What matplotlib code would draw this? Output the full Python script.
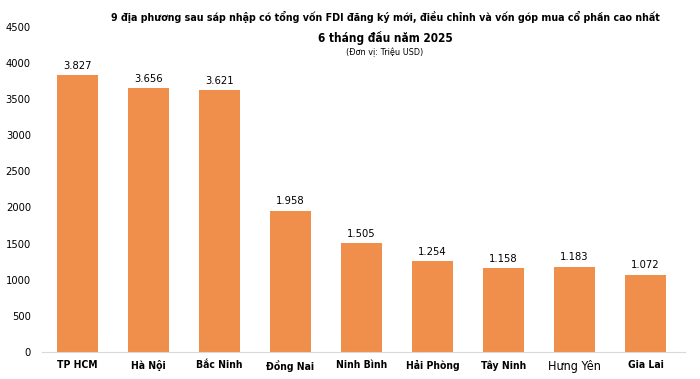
import matplotlib
matplotlib.use("Agg")
import matplotlib.pyplot as plt

categories = ["TP HCM", "Hà Nội", "Bắc Ninh", "Đồng Nai", "Ninh Bình", "Hải Phòng", "Tây Ninh", "Hưng Yên", "Gia Lai"]
values = [3827, 3656, 3621, 1958, 1505, 1254, 1158, 1183, 1072]
value_labels = ["3.827", "3.656", "3.621", "1.958", "1.505", "1.254", "1.158", "1.183", "1.072"]
yticks = [0, 500, 1000, 1500, 2000, 2500, 3000, 3500, 4000, 4500]

plt.rcParams['font.family'] = ['DejaVu Sans']
plt.rcParams['font.stretch'] = 'condensed'

fig = plt.figure(figsize=(7, 3.79), dpi=100)
ax = fig.add_axes([0.06, 0.0712, 0.919, 0.858])
x = list(range(len(categories)))
bars = ax.bar(x, values, width=0.59, color="#F08E4B")
for xi, v, lab in zip(x, values, value_labels):
    ax.annotate(lab, (xi, v), xytext=(0, 3), textcoords="offset points",
                ha="center", va="bottom", fontsize=8)
ax.set_xlim(-0.5, 8.56)
ax.set_ylim(0, 4500)
ax.set_yticks(yticks)
ax.set_yticklabels([str(t) for t in yticks], fontsize=8)
ax.set_xticks(x)
ax.set_xticklabels(categories, fontsize=7.5, fontweight="bold")
for lbl in ax.get_xticklabels():
    if lbl.get_text() == "Hưng Yên":
        lbl.set_fontweight("normal")
        lbl.set_fontsize(9)
ax.tick_params(axis="both", length=0)
ax.tick_params(axis="x", pad=6)
ax.tick_params(axis="y", pad=8)
for s in ["top", "right", "left"]:
    ax.spines[s].set_visible(False)
ax.spines["bottom"].set_color("#d9d9d9")

fig.text(0.55, 0.955, "9 địa phương sau sáp nhập có tổng vốn FDI đăng ký mới, điều chỉnh và vốn góp mua cổ phần cao nhất",
         ha="center", va="center", fontsize=7.7, fontweight="bold")
fig.text(0.55, 0.9, "6 tháng đầu năm 2025", ha="center", va="center", fontsize=8.5, fontweight="bold")
fig.text(0.55, 0.862, "(Đơn vị: Triệu USD)", ha="center", va="center", fontsize=6.5)

fig.savefig("out.png", dpi=100)
